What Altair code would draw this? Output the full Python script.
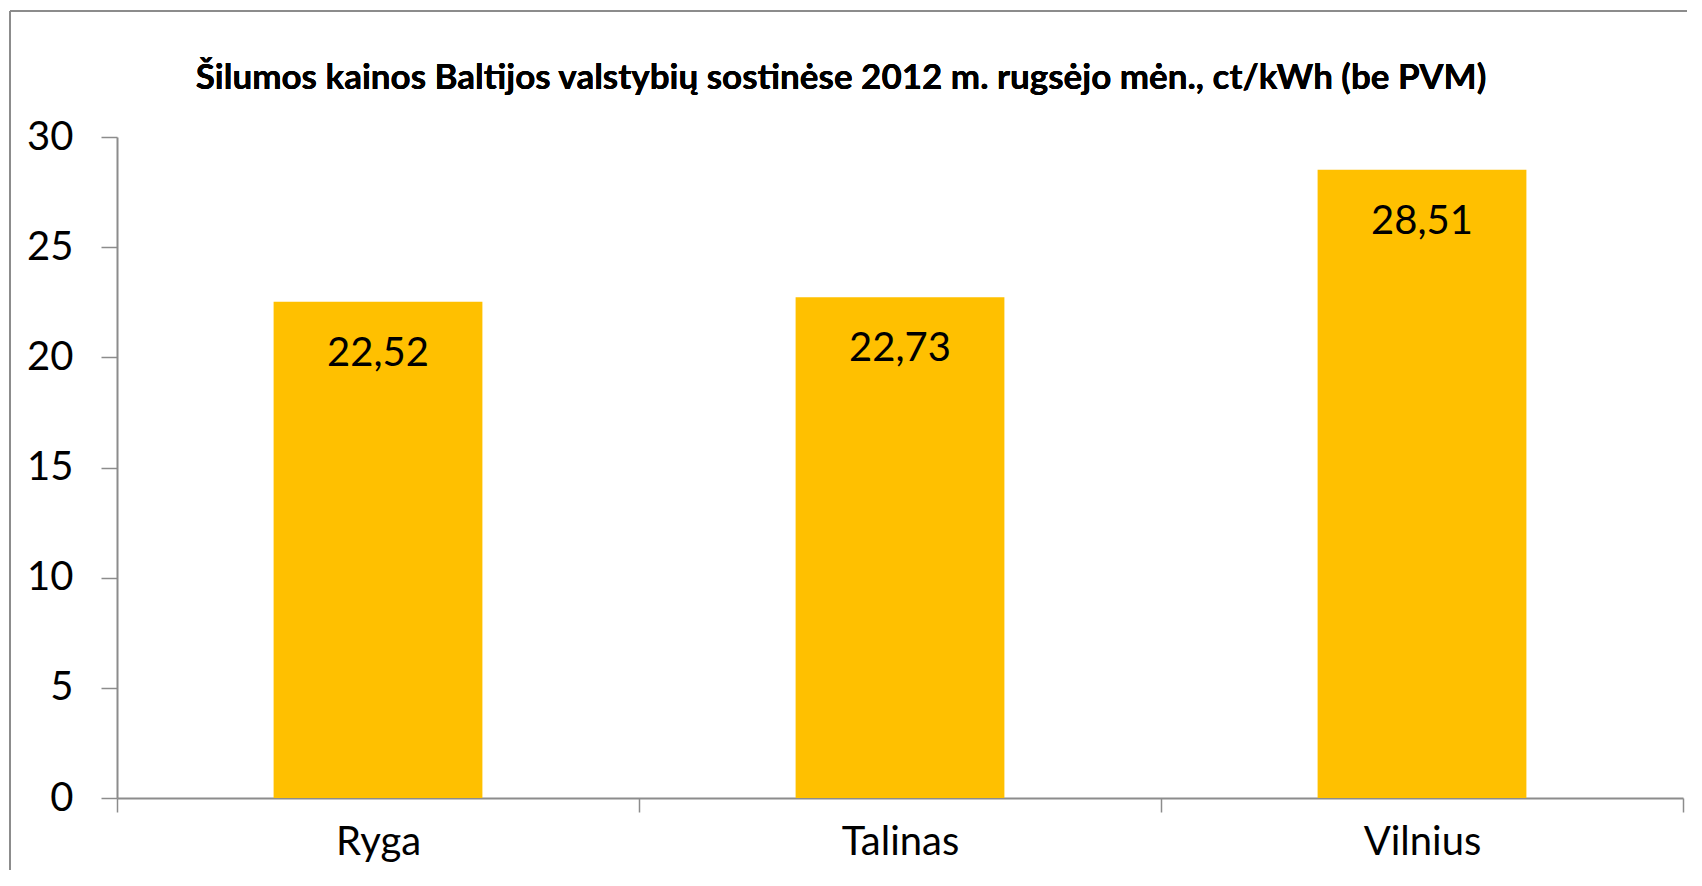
import altair as alt
import pandas as pd

cities = ["Ryga", "Talinas", "Vilnius"]
prices = [22.52, 22.73, 28.51]
price_labels = ["22,52", "22,73", "28,51"]
y_ticks = [0, 5, 10, 15, 20, 25, 30]
title_text = "Šilumos kainos Baltijos valstybių sostinėse  2012 m. rugsėjo mėn., ct/kWh (be PVM)"

df = pd.DataFrame({"city": cities, "price": prices, "label": price_labels})

W = 1566
H = 661
PAD_R = 4
PAD_B = 72
FONT = "Lato"
AXIS_COLOR = "#8c8c8c"

x_enc = alt.X(
    "city:N",
    sort=cities,
    scale=alt.Scale(paddingInner=0, paddingOuter=0),
    axis=alt.Axis(
        title=None, labelAngle=0, labelFontSize=40, labelFont=FONT, labelColor="#000000",
        domainColor=AXIS_COLOR, domainWidth=2, tickColor=AXIS_COLOR, tickWidth=1.5,
        tickSize=14, tickBand="extent", labelPadding=10,
    ),
)
y_enc = alt.Y(
    "price:Q",
    scale=alt.Scale(domain=[0, 30], nice=False),
    axis=alt.Axis(
        title=None, values=y_ticks, labelFontSize=40, labelFont=FONT, labelColor="#000000",
        domainColor=AXIS_COLOR, domainWidth=2, tickColor=AXIS_COLOR, tickWidth=1.5,
        tickSize=16, labelPadding=28, grid=False,
    ),
)

base = alt.Chart(df)

frame_left = base.mark_rule(stroke="#8c8c8c", strokeWidth=2, clip=False).encode(
    x=alt.value(-107), y=alt.value(-126), y2=alt.value(H + PAD_B)
)
frame_top = base.mark_rule(stroke="#8c8c8c", strokeWidth=2, clip=False).encode(
    x=alt.value(-107), x2=alt.value(W + PAD_R), y=alt.value(-126)
)

bars = base.mark_bar(color="#FFC000", width=alt.RelativeBandSize(0.4)).encode(x=x_enc, y=y_enc)

labels = base.mark_text(
    font=FONT, fontSize=40, color="#000000", baseline="middle", dy=52
).encode(x=alt.X("city:N", sort=cities), y=alt.Y("price:Q"), text="label:N")

title = base.mark_text(
    font=FONT, fontSize=35, fontWeight="bold", color="#000000", baseline="middle", clip=False
).encode(x=alt.value(724), y=alt.value(-59), text=alt.value(title_text))

chart = alt.layer(frame_left, frame_top, bars, labels, title).properties(
    width=W, height=H,
    autosize=alt.AutoSizeParams(type="none"),
    padding={"left": 109, "top": 129, "right": PAD_R, "bottom": PAD_B},
    background="white",
).configure_view(stroke=None)

chart.save("out.html", embed_options={"renderer": "svg", "actions": False})
